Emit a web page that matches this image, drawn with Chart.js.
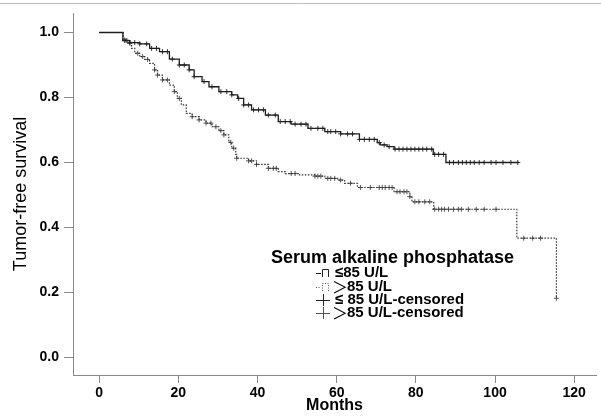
<!DOCTYPE html>
<html lang="en">
<head>
  <meta charset="UTF-8">
  <title>Tumor-free survival</title>
  <script src="https://cdn.jsdelivr.net/npm/chart.js"></script>
  <style>
    html, body { margin: 0; padding: 0; background: #fff; }
  </style>
</head>
<body>
  <canvas id="km" width="601" height="416"></canvas>
  <script>
    // Kaplan-Meier steps (months, survival)
    const lowMonths = [0, 6, 7.75, 10.25, 12.75, 15.25, 17.75, 20.25, 22.75, 24, 26, 27.75, 30.25, 33.5, 35, 36.5, 38.5, 42, 45.25, 48.5, 52.75, 57, 61, 65.75, 70.25, 71, 72.75, 74.5, 84.4, 87.6, 105.9];
    const lowSurv   = [1.0, .975, .969, .965, .951, .941, .918, .900, .885, .864, .849, .833, .818, .808, .797, .777, .762, .746, .726, .718, .705, .695, .688, .671, .661, .654, .649, .641, .625, .600, .600];

    const highMonths = [0, 6.1, 7.25, 8.2, 9, 10.25, 11.5, 12.75, 14, 14.75, 16, 17.75, 19, 19.75, 20.75, 22, 23.5, 25.25, 27, 28.5, 30.25, 31.5, 32.75, 33.5, 34.5, 34.75, 37.75, 39.75, 42.75, 45.25, 47, 50.25, 54.5, 57, 60.25, 62, 65.25, 74.5, 78.5, 79, 84.5, 105.5, 115.5];
    const highSurv   = [1.0, .977, .967, .951, .936, .926, .917, .905, .885, .869, .854, .838, .818, .797, .777, .751, .741, .731, .721, .710, .698, .685, .662, .644, .625, .613, .605, .594, .582, .572, .566, .562, .558, .551, .546, .536, .523, .510, .495, .479, .456, .367, .182];

    // censored cases (months)
    const lowCensor = [6.5, 7, 7.75, 9, 10.25, 12, 13.25, 14.5, 16, 17.25, 18.5, 20.25, 21.5, 22.75, 24, 26.5, 28.5, 30.75, 32.25, 33.5, 35.25, 36.5, 37.75, 39, 40.25, 41.5, 42.75, 44.5, 45.75, 47, 48.25, 49.5, 51, 52.25, 53.5, 55.25, 56.5, 57.75, 58.5, 59.75, 61, 62.75, 64, 65.75, 67, 68.25, 69.5, 70.75, 72, 73.25, 74.75, 75.75, 76.75, 77.75, 78.75, 79.75, 80.75, 81.75, 82.75, 84, 84.75, 85.75, 87, 88.5, 89.5, 90.75, 91.75, 92.75, 93.75, 94.75, 96, 97.25, 99, 100.25, 102, 104, 105.75];
    const highCensor = [6.5, 7.75, 9.75, 11, 12.25, 14, 14.75, 16, 17.25, 19, 20.25, 23.5, 25.25, 27, 28.25, 29.5, 30.75, 31.5, 33.25, 34, 34.75, 37.75, 38.5, 39.75, 42.75, 44, 44.75, 48.5, 49.5, 54.5, 55.25, 56, 57.75, 58.5, 59.5, 61, 63.5, 66, 68.5, 70.75, 71.5, 72.25, 73.25, 74, 75.25, 76, 77, 77.75, 78.5, 79.75, 80.75, 82.25, 83.5, 84.75, 85.75, 86.5, 87.25, 88.25, 89.5, 90.75, 91.5, 93.25, 95.25, 97.25, 100.25, 107.25, 109.5, 111.5, 115.5];

    const xTicks = [0, 20, 40, 60, 80, 100, 120];
    const yTicks = [0, 0.2, 0.4, 0.6, 0.8, 1.0];

    const groupLabels = ['≤85 U/L', '＞85 U/L', '≤ 85 U/L-censored', '＞85 U/L-censored'];

    function survAt(months, surv, t) {
      let s = surv[0];
      for (let i = 0; i < months.length; i++) {
        if (months[i] <= t) s = surv[i];
      }
      return s;
    }

    const toXY = (ms, ss) => ms.map((m, i) => ({ x: m, y: ss[i] }));
    const censorXY = (cs, ms, ss) => cs.map(t => ({ x: t, y: survAt(ms, ss, t) }));

    const AXIS = '#8a8a8a';
    const FONT = '"Liberation Sans", Arial, sans-serif';

    // legend + frame line drawn on top
    const legendPlugin = {
      id: 'kmLegend',
      afterDraw(chart) {
        const ctx = chart.ctx;
        ctx.save();
        ctx.strokeStyle = '#bdbdbd';
        ctx.lineWidth = 1;
        ctx.beginPath();
        ctx.moveTo(0, 3.5);
        ctx.lineTo(601, 3.5);
        ctx.stroke();

        ctx.fillStyle = '#000';
        ctx.textBaseline = 'middle';
        ctx.font = 'bold 18px ' + FONT;
        ctx.fillText('Serum alkaline phosphatase', 271, 258);

        const rows = [273, 287, 300, 313];
        const tx = 335;
        rows.forEach((y, i) => {
          // symbol
          ctx.strokeStyle = i % 2 === 0 ? '#222' : '#555';
          ctx.lineWidth = 1;
          ctx.setLineDash(i === 1 ? [1, 1.5] : []);
          ctx.beginPath();
          if (i < 2) {
            ctx.moveTo(316, y + 0.5);
            ctx.lineTo(321, y + 0.5);
            ctx.moveTo(322.5, y + 4);
            ctx.lineTo(322.5, y - 3.5);
            ctx.lineTo(328.5, y - 3.5);
            ctx.lineTo(328.5, y + 4);
          } else {
            ctx.moveTo(316, y + 0.5);
            ctx.lineTo(330, y + 0.5);
            ctx.moveTo(323.5, y - 6);
            ctx.lineTo(323.5, y + 6);
          }
          ctx.stroke();
          ctx.setLineDash([]);

          // text, the '＞' in a thin face
          const lab = groupLabels[i];
          let x = tx;
          if (lab[0] === '＞') {
            ctx.font = '16px "Noto Sans CJK SC", ' + FONT;
            ctx.fillText('＞', x - 3, y);
            x += ctx.measureText('＞').width - 4;
            ctx.font = 'bold 15px ' + FONT;
            ctx.fillText(lab.slice(1), x, y);
          } else {
            ctx.font = 'bold 15px ' + FONT;
            ctx.fillText(lab, x, y);
          }
        });
        ctx.restore();
      }
    };

    const noPad = s => { s.paddingLeft = 0; s.paddingRight = 0; s.paddingTop = 0; s.paddingBottom = 0; };

    const ctx = document.getElementById('km').getContext('2d');
    const kmChart = new Chart(ctx, {
      type: 'line',
      data: {
        datasets: [
          {
            label: groupLabels[0],
            data: toXY(lowMonths, lowSurv),
            stepped: 'before',
            borderColor: '#1e1e1e',
            borderWidth: 1.3,
            pointRadius: 0,
            fill: false
          },
          {
            label: groupLabels[1],
            data: toXY(highMonths, highSurv),
            stepped: 'before',
            borderColor: '#333',
            borderWidth: 1.2,
            borderDash: [1.5, 1.5],
            pointRadius: 0,
            fill: false
          },
          {
            label: groupLabels[2],
            data: censorXY(lowCensor, lowMonths, lowSurv),
            showLine: false,
            pointStyle: 'cross',
            pointRadius: 2.5,
            borderColor: '#333',
            borderWidth: 1
          },
          {
            label: groupLabels[3],
            data: censorXY(highCensor, highMonths, highSurv),
            showLine: false,
            pointStyle: 'cross',
            pointRadius: 2.5,
            borderColor: '#555',
            borderWidth: 1
          }
        ]
      },
      options: {
        responsive: false,
        animation: false,
        layout: { padding: { top: 13, right: 0, left: 0, bottom: 0 } },
        plugins: {
          legend: { display: false },
          tooltip: { enabled: false }
        },
        scales: {
          x: {
            type: 'linear',
            min: -6.6,
            max: 125.5,
            afterBuildTicks: s => { s.ticks = xTicks.map(v => ({ value: v })); },
            afterFit: s => { s.height = 41; noPad(s); },
            grid: { drawOnChartArea: false, drawTicks: true, tickLength: 8, color: AXIS },
            border: { color: AXIS, width: 1 },
            ticks: {
              color: '#000',
              padding: 2,
              maxRotation: 0,
              font: { family: FONT, size: 14, weight: 'bold' }
            },
            title: {
              display: true,
              text: 'Months',
              color: '#000',
              padding: { top: 0, bottom: 1 },
              font: { family: FONT, size: 16, weight: 'bold' }
            }
          },
          y: {
            min: -0.054,
            max: 1.06,
            afterBuildTicks: s => { s.ticks = yTicks.map(v => ({ value: v })); },
            afterFit: s => { s.width = 73; noPad(s); },
            grid: { drawOnChartArea: false, drawTicks: true, tickLength: 9, color: AXIS },
            border: { color: AXIS, width: 1 },
            ticks: {
              color: '#000',
              padding: 5,
              font: { family: FONT, size: 14, weight: 'bold' },
              callback: v => v.toFixed(1)
            },
            title: {
              display: true,
              text: 'Tumor-free survival',
              color: '#000',
              padding: { top: 10, bottom: 0 },
              font: { family: FONT, size: 18 }
            }
          }
        }
      },
      plugins: [legendPlugin]
    });
  </script>
</body>
</html>
